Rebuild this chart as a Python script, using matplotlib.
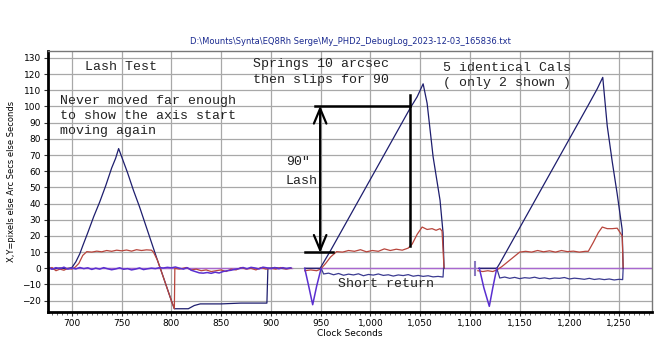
import numpy as np
import matplotlib.pyplot as plt
from matplotlib.ticker import MultipleLocator, FuncFormatter

nan = np.nan

# RA (navy) - the big triangles
ra_t = [676, 682, 688, 694, 700, 704, 708, 711, 716, 722, 728, 734, 740, 744, 747,
        750, 756, 762, 768, 774, 780, 786, 790, 795, 800, 803, 810, 817, 823, 829,
        850, 870, 896, 897, 905, 913, 920, nan,
        934, 942, 949.5, 960, 970, 980, 990, 1000, 1010, 1020, 1030, 1040, 1047,
        1053, 1057, 1063, 1070, 1073, 1074, nan,
        1109, 1118, 1127, 1130, 1140, 1150, 1160, 1170, 1180, 1190, 1200, 1210,
        1220, 1228, 1233.5, 1238, 1243, 1248, 1253, 1254]
ra_v = [0.3, -0.4, 0.2, -0.3, 0.4, 4, 9, 14, 22, 32, 41, 51, 62, 68, 74,
        69, 59, 48, 38, 27, 16, 5, -2, -11, -20, -25, -25, -25, -23, -22,
        -22, -21.5, -21.5, 0, 0.3, -0.2, 0.1, nan,
        0, 0, 0, 11, 22, 33, 44, 55, 66, 77, 88, 99, 106,
        114, 102, 69, 42, 22, 0, nan,
        0, 0, 0, 3, 14, 25, 36, 47, 58, 69, 80, 91,
        102, 111, 118, 88, 66, 46, 24, 0]

# Dec (red)
dec_t = [676, 680, 684, 688, 692, 696, 700, 703, 707, 711, 715, 720, 725, 730, 735,
         740, 745, 750, 755, 760, 765, 770, 775, 780, 782, 786, 790, 795, 800, 803,
         803.5, 808, 815, 820, 825, 830, 835, 840, 845, 850, 855, 860, 865, 870,
         875, 880, 885, 890, 895, 900, 905, 910, 915, 920, nan,
         934, 940, 946, 950, 955, 960, 966, 972, 978, 984, 990, 996, 1002, 1008,
         1014, 1020, 1026, 1032, 1038, 1042, 1047, 1052, 1057, 1062, 1066, 1070,
         1072, 1074, nan,
         1108, 1113, 1118, 1123, 1127, 1132, 1138, 1144, 1150, 1156, 1162, 1168,
         1174, 1180, 1186, 1192, 1198, 1204, 1210, 1216, 1219, 1224, 1229, 1233,
         1238, 1243, 1248, 1251, 1253, 1254]
dec_v = [-1, 0.5, -1.5, -0.5, -1.2, 0, -0.5, 0.5, 3, 8, 10.3, 10, 10.6, 10.2, 11,
         10.5, 11.2, 10.8, 11.3, 10.6, 11.5, 11, 11.4, 11.2, 10, 5, -2, -11, -20, -25,
         0, -0.5, 0.5, -1, -0.5, -1.5, -1, -2, -1.5, -1, -2, -0.5, -1, 0.5,
         -0.5, 0, -1, 0.5, -0.5, 0, -0.5, 0.5, -0.5, 0, nan,
         -1.5, -1, -1.5, -0.5, 3, 7, 10.3, 10, 11, 10.5, 11.5, 10.2, 11, 10.5,
         12, 11, 11.8, 11.2, 12.5, 15, 21, 25.5, 24, 24.5, 23.5, 24.5,
         23, 0, nan,
         -1.5, -2, -1.5, -2, -1, 1, 4, 7, 10, 10.5, 10, 11,
         10.2, 10.8, 10, 11, 10.3, 10.6, 10, 10.5, 10.5, 16, 22, 25.5,
         24.5, 24.5, 24.8, 22, 20, 0]

# violet: noise in the lash test and the two short-return dips
dist_t = [676, 680, 684, 688, 692, 696, 700, 704, 708, 712, 716, 720, 724, 728, 732,
          736, 740, 744, 748, 752, 756, 760, 764, 768, 772, 776, 780, 784, 788, 792,
          796, 800, 804, 808, 812, 816, 820, 824, 828, 832, 836, 840, 844, 848, 852,
          856, 860, 864, 868, 872, 876, 880, 884, 888, 892, 896, 900, 904, 908, 912,
          916, 920, nan,
          934, 938, 942, 946, 950.5, nan,
          1109.5, 1114, 1119.5, 1123, 1127]
dist_v = [0.8, -0.6, 0.4, -0.3, 0.7, -0.5, 0.2, -0.4, 0.5, -0.2, 0.3, -0.7, 0.1, -0.5, 0.4,
          -0.3, -0.9, -0.4, 0.3, -0.6, -0.2, -1.0, -0.5, 0.2, -0.8, -0.3, 0.1, -0.2, 0.4, 0.2,
          0.6, 0.3, 0.8, 0.1, -0.5, 0.4, -1.2, -2.0, -2.8, -3.0, -2.6, -3.1, -2.4, -2.9, -2.0,
          -1.5, -1.2, -0.6, -0.2, 0.5, -0.3, 0.6, 0.2, -0.4, 0.7, 0.3, -0.2, 0.5, -0.3, 0.4,
          -0.2, 0.3, nan,
          0, -11, -22.5, -11, 0, nan,
          0, -12, -23.5, -12, 0]

# navy thin line below zero after each dip
off_t = [950.5, 953, 958, 963, 968, 973, 978, 983, 988, 993, 998, 1003, 1008, 1013,
         1018, 1023, 1028, 1033, 1038, 1043, 1048, 1053, 1058, 1063, 1068, 1073, 1073.5, nan,
         1127, 1130, 1135, 1140, 1145, 1150, 1155, 1160, 1165, 1170, 1175, 1180, 1185,
         1190, 1195, 1200, 1205, 1210, 1215, 1220, 1225, 1230, 1235, 1240, 1245, 1250,
         1253.5, 1254]
off_v = [0, -3.5, -3.0, -4.0, -3.2, -4.3, -3.6, -4.1, -3.4, -4.6, -3.8, -4.2, -3.5, -4.4,
         -4.0, -4.8, -4.1, -4.5, -3.9, -4.9, -4.4, -5.0, -4.6, -5.3, -5.0, -5.4, 0, nan,
         0, -6.0, -5.4, -6.2, -5.6, -6.4, -5.8, -6.1, -5.5, -6.3, -5.9, -6.5, -6.0,
         -6.2, -5.7, -6.6, -6.1, -6.4, -6.8, -6.2, -6.9, -6.5, -7.0, -6.6, -7.2, -6.8,
         -7.0, 0]

zero_t = [676, 921, nan, 934, 1283]
zero_v = [0, 0, nan, 0, 0]

tick_t = [1105.5, 1105.5]
tick_v = [-4, 4]

fig = plt.figure(figsize=(6.59, 3.5), dpi=100)
ax = fig.add_axes([0.0728, 0.1086, 0.9166, 0.7457])

ax.plot(zero_t, zero_v, color='#a868d0', lw=1.0)
ax.plot(ra_t, ra_v, color='#1e1e6e', lw=0.9)
ax.plot(dec_t, dec_v, color='#b8453c', lw=0.9)
ax.plot(off_t, off_v, color='#3a3a90', lw=0.9)
ax.plot(dist_t, dist_v, color='#5a2fd0', lw=1.1)
ax.plot(tick_t, tick_v, color='#8878c0', lw=1.5)

ax.set_xlim(676, 1283)
ax.set_ylim(-27, 134.3)
ax.xaxis.set_major_locator(MultipleLocator(50))
ax.xaxis.set_minor_locator(MultipleLocator(5))
ax.yaxis.set_major_locator(MultipleLocator(10))
ax.xaxis.set_major_formatter(FuncFormatter(lambda v, p: f'{int(v):,}'))
ax.grid(True, which='major', color='#a8a8a8', lw=0.9)
ax.set_axisbelow(True)
ax.tick_params(axis='both', which='major', labelsize=6.5, length=3, color='#333333', pad=2)
ax.tick_params(axis='x', which='minor', length=2, color='#555555')
for s in ['left', 'bottom']:
    ax.spines[s].set_linewidth(2)
    ax.spines[s].set_color('black')
for s in ['top', 'right']:
    ax.spines[s].set_linewidth(1)
    ax.spines[s].set_color('#777777')

ax.set_xlabel('Clock Seconds', fontsize=6.5, labelpad=1)
ax.set_ylabel('X,Y=pixels else Arc Secs else Seconds', fontsize=6, labelpad=4)
ax.set_title(r'D:\Mounts\Synta\EQ8Rh Serge\My_PHD2_DebugLog_2023-12-03_165836.txt',
             fontsize=6, color='#1a2a90', pad=5)

# hand-drawn lash markup
mk = dict(color='black', lw=1.8)
ax.plot([944, 1040], [100, 100], **mk)
ax.plot([934, 962], [10, 10], **mk)
ax.plot([1040, 1040], [14, 107], **mk)
ax.annotate('', xy=(949.5, 100.5), xytext=(949.5, 9.5),
            arrowprops=dict(arrowstyle='<->,head_length=0.6,head_width=0.25',
                            color='black', lw=1.6,
                            mutation_scale=18, shrinkA=0, shrinkB=0))

mono = dict(family='Liberation Mono', fontsize=9.5, color='#222222', linespacing=1.35)
ax.text(713, 124.5, 'Lash Test', va='center', **mono)
ax.text(882, 121.3, 'Springs 10 arcsec\nthen slips for 90', va='center', **mono)
ax.text(1073, 119, '5 identical Cals\n( only 2 shown )', va='center', **mono)
ax.text(688, 94, 'Never moved far enough\nto show the axis start\nmoving again',
        va='center', **mono)
ax.text(915, 60, '90\u2033\nLash', va='center', family='Liberation Mono',
        fontsize=9.5, color='#222222', linespacing=1.75)
ax.text(967.5, -9.7, 'Short return', va='center', **mono)

fig.savefig('out.png', dpi=100)
